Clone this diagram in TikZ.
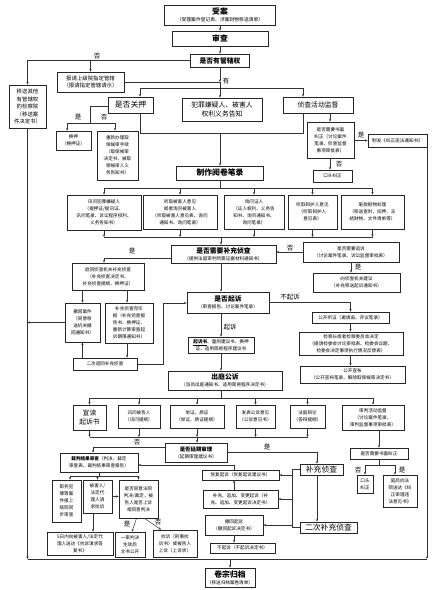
\documentclass[tikz,border=0pt]{standalone}
\usepackage{fontspec}
\setmainfont{Noto Sans CJK SC}
\usetikzlibrary{arrows.meta,positioning}
\newcommand{\fa}{\fontsize{4.6}{7}\selectfont}
\newcommand{\fm}{\fontsize{5.4}{7.5}\selectfont}
\newcommand{\fb}{\fontsize{6.8}{8.5}\selectfont}
\newcommand{\fc}{\fontsize{7.8}{9}\selectfont}
\tikzset{
  box/.style={draw=black!85, line width=0.7pt, align=center, inner sep=0.5pt, font=\fa},
  arr/.style={-{Stealth[length=2.6pt,width=2.2pt]}},
  lab/.style={font=\fontsize{6.5}{7}\selectfont, inner sep=0.5pt},
}
\begin{document}
\begin{tikzpicture}[x=1pt,y=-1pt,line width=0.5pt,draw=black!80]
\useasboundingbox (0,0) rectangle (440,590);
% top part
\node[box,minimum width=111,minimum height=20] (shouan) at (220,15) {{\fc\bfseries 受案}\\{\fontsize{4.8}{6}\selectfont（受理案件登记表、涉案财物移送清单）}};
\node[box,minimum width=96,minimum height=15] (shencha) at (220,38.5) {\fc\bfseries 审查};
\node[box,minimum width=59,minimum height=13] (guanxia) at (220,60.5) {\fb\bfseries 是否有管辖权};
\node[box,minimum width=37,minimum height=43,font=\fm] (yisong) at (27.5,106.5) {移送其他\\有管辖权\\的检察院\\（移送案\\件决定书）};
\node[box,minimum width=67,minimum height=20,font=\fm] (baoqing) at (90.5,82) {报请上级院指定管辖\\（报请指定管辖请示）};
\node[box,minimum width=45,minimum height=16,font=\fc] (guanya) at (130.5,105) {是否关押};
\node[box,minimum width=80,minimum height=23,font=\fb] (gaozhi) at (222,109.5) {犯罪嫌疑人、被害人\\权利义务告知};
\node[box,minimum width=70,minimum height=16,font=\fb] (jiandu) at (318,105) {侦查活动监督};
\node[box,minimum width=35,minimum height=19] (huanya) at (73.5,140.5) {换押\\（换押证）};
\node[box,minimum width=41,minimum height=49] (qubao) at (117.5,155.5) {重新办理取\\保候审手续\\（取保候审\\决定书、被取\\保候审人义\\务告知书）};
\node[box,minimum width=47,minimum height=36] (shumian) at (330.5,140) {是否需要书面\\纠正（讨论案件\\笔录、侦查监督\\事项审批表）};
\node[box,minimum width=59,minimum height=13] (zhifa) at (397.5,140.5) {制发《纠正违法通知书》};
\node[box,minimum width=39,minimum height=12] (koutou) at (332.5,176) {口头纠正};
% reading the file
\node[box,minimum width=87,minimum height=14] (yuejuan) at (220,173) {\fc\bfseries 制作阅卷笔录};
\node[box,minimum width=74,minimum height=35] (xunwen) at (104,212.5) {讯问犯罪嫌疑人\\（提押证/提讯证、\\讯问笔录、诉讼程序权利、\\义务告知书）};
\node[box,minimum width=74,minimum height=34] (beihai) at (180,212) {听取被害人意见\\或者询问被害人\\（听取被害人意见表、询问\\通知书、询问笔录）};
\node[box,minimum width=60,minimum height=34] (zhengren) at (254,212) {询问证人\\（证人权利、义务告\\知书、询问通知书、\\询问笔录）};
\node[box,minimum width=49,minimum height=34] (bianhu) at (312.5,212) {听取辩护人意见\\（听取辩护人\\意见表）};
\node[box,minimum width=63,minimum height=34] (zangkuan) at (372.5,212) {赃款赃物处理\\（移送查封、扣押、冻\\结财物、文件清单等）};
\node[box,minimum width=105,minimum height=18] (buchong) at (223.5,254) {{\fb\bfseries 是否需要补充侦查}\\（提供法庭审判所需证据材料通知书）};
\node[box,minimum width=96,minimum height=20] (zhuisu) at (351,252) {是否需要追诉\\（讨论案件笔录、诉讼监督审批表）};
\node[box,minimum width=87,minimum height=19] (jianyi) at (356.5,282.5) {向侦查机关建议\\（补充移送起诉通知书）};
\node[box,minimum width=72,minimum height=27] (tuihui) at (108,276.5) {退回侦查机关补充侦查\\（补充侦查决定书、\\补充侦查提纲、换押证）};
\node[box,minimum width=35,minimum height=39] (chehui) at (82.5,322.5) {撤回案件\\（同意移\\送机关撤\\回通知书）};
\node[box,minimum width=48,minimum height=40] (wanbi) at (129,323) {补充侦查完毕\\报（补充侦查报\\告书、换押证、\\重新计算审查起\\诉期限通知书）};
\node[box,minimum width=64,minimum height=12] (erci) at (105,364) {二次退回补充侦查};
% prosecution
\node[box,minimum width=82,minimum height=21] (qisu) at (228,302.5) {{\fb\bfseries 是否起诉}\\（审查报告、讨论案件笔录）};
\node[box,minimum width=66,minimum height=16] (qisushu) at (221,345) {\underline{\bfseries 起诉书}、量刑建议书、换押\\证、适用简易程序建议书};
\node[box,minimum width=114,minimum height=19] (chuting) at (225,380.5) {{\fb\bfseries 出庭公诉}\\（派员出庭通知书、适用简易程序决定书）};
\node[box,minimum width=77,minimum height=11] (tingzheng) at (350.5,317.5) {公开听证（邀请函、评议笔录）};
\node[box,minimum width=104,minimum height=23] (jianchazhang) at (351,343.5) {检察长或者检察委员会决定\\（提请检委会讨论审批表、检委会议题、\\检委会决定事项执行情况反馈表）};
\node[box,minimum width=105,minimum height=17] (xuanbu) at (352.5,374.5) {公开宣布\\（公开宣布笔录、解除取保候审决定书）};
% court
\node[box,minimum width=33,minimum height=25,font=\fb] (xuandu) at (89.5,417.5) {宣读\\起诉书};
\node[box,minimum width=42,minimum height=23] (xunbei) at (139,416.5) {讯问被告人\\（讯问提纲）};
\node[box,minimum width=54,minimum height=23] (juzheng) at (197,416.5) {举证、质证\\（举证、质证提纲）};
\node[box,minimum width=39,minimum height=23] (gongsu) at (255.5,416.5) {发表公诉意见\\（公诉意见书）};
\node[box,minimum width=35,minimum height=23] (bianlun) at (307.5,416.5) {法庭辩论\\（答辩提纲）};
\node[box,minimum width=62,minimum height=25] (shenpan) at (373,417.5) {审判活动监督\\（讨论案件笔录、\\审判监督事项审批表）};
\node[box,minimum width=62,minimum height=19] (yanqi) at (196,452.5) {{\fm\bfseries 是否延期审理}\\（延期审理建议书）};
\node[box,minimum width=58,minimum height=11] (shumian2) at (379,453.5) {是否需要书面纠正};
\node[box,minimum width=16,minimum height=18] (koutou2) at (365,484) {口头\\纠正};
\node[box,minimum width=34,minimum height=32] (tinghou) at (400,491) {庭后向法\\院送达《纠\\正审理违\\法意见书》};
\node[box,minimum width=43,minimum height=11,font=\fc] (bczc) at (321.5,469.5) {补充侦查};
\node[box,minimum width=57,minimum height=11,font=\fc] (ercibc) at (328.5,527.5) {二次补充侦查};
\node[box,minimum width=77,minimum height=10] (huifu) at (240.5,475) {恢复起诉（恢复起诉建议书）};
\node[box,minimum width=75,minimum height=18] (biangeng) at (240.5,499) {补充、追加、变更起诉（补\\充、追加、变更起诉决定书）};
\node[box,minimum width=58,minimum height=20] (chehuiqs) at (234,525) {撤回起诉\\（撤回起诉决定书）};
\node[box,minimum width=65,minimum height=10] (buqisu) at (242.5,548) {不起诉（不起诉决定书）};
% judgment review
\node[box,minimum width=78,minimum height=19] (caipan) at (99,462.5) {{\bfseries 裁判结果审查}（判决、裁定\\审查表、裁判结果审查报告）};
\node[box,minimum width=29,minimum height=42] (zhiwu) at (66.5,501) {职务犯\\罪等案\\件报上\\级院同\\步审查};
\node[box,minimum width=29,minimum height=33] (qingqiu) at (97.5,496.5) {被害人/\\法定代\\理人请\\求抗诉};
\node[box,minimum width=39,minimum height=38] (tongyi) at (138.5,499) {是否同意法院\\判决/裁定，被\\告人是否上诉\\或同意判决};
\node[box,minimum width=66,minimum height=23] (dafu) at (80,543.5) {5日内向被害人/法定代\\理人送达《抗诉请求答\\复书》};
\node[box,minimum width=30,minimum height=25] (yishen) at (130,544.5) {一审判决\\生效后\\文书公开};
\node[box,minimum width=44,minimum height=27] (kangsu) at (175,543.5) {抗诉（刑事抗\\诉书）或被告人\\上诉（上诉状）};
\node[box,minimum width=50,minimum height=19] (guidang) at (230,577.5) {{\fc\bfseries 卷宗归档}\\（移送归档案卷清单）};
% connectors, top
\draw[arr] (shouan) -- (shencha);
\draw[arr] (shencha) -- (guanxia);
\draw[arr] (guanxia.west) -| (yisong.north);
\node[lab] (lno1) at (97,56) {否};
\draw[arr] (baoqing.north |- guanxia.west) -- (baoqing.north);
\coordinate (d1) at (220,88);
\draw[arr] (guanxia.south) -- (baoqing.east -| d1);
\draw (baoqing.east) -- (baoqing.east -| d1) -- (d1);
\node[lab] (lyou) at (226,81) {有};
\coordinate (d1l) at (140,88);
\coordinate (d1r) at (303,88);
\draw (d1l) -- (d1r);
\draw[arr] (d1l) -- (d1l |- guanya.north);
\draw[arr] (d1) -- (d1 |- gaozhi.north);
\draw[arr] (d1r) -- (d1r |- jiandu.north);
\coordinate (gy) at (90,123);
\draw ([yshift=-1pt]guanya.west) -| (gy);
\draw (67,123) -- (115,123);
\draw[arr] (67,123) -- (67,0 |- huanya.north);
\draw[arr] (115,123) -- (115,0 |- qubao.north);
\node[lab] (lyes1) at (78,117) {是};
\node[lab] (lno2) at (104,117) {否};
\coordinate (c1) at (220,133);
\draw (d1l |- guanya.south) -- (d1l |- c1) -- (d1r |- c1) -- (d1r |- jiandu.south);
\draw[arr] (c1) -- (c1 |- yuejuan.north);
\draw[arr] (330,0 |- jiandu.south) -- (330,0 |- shumian.north);
\draw[arr] (shumian.east |- zhifa.west) -- (zhifa.west);
\node[lab] (lyes2) at (361,135) {是};
\draw[arr] (330,0 |- shumian.south) -- (330,0 |- koutou.north);
\node[lab] (lno3) at (339,164) {否};
% reading the file
\coordinate (d2) at (220,188);
\draw (yuejuan.south) -- (d2);
\draw (xunwen.north |- d2) -- (zangkuan.north |- d2);
\foreach \b in {xunwen,beihai,zhengren,bianhu,zangkuan}{
  \draw[arr] (\b.north |- d2) -- (\b.north);
  \draw[arr] (\b.south) -- (\b.south |- 0,237);
}
\coordinate (c2) at (221,237);
\draw (xunwen.south |- c2) -- (zangkuan.south |- c2);
\draw[arr] (c2) -- (c2 |- buchong.north);
\draw[arr] ([yshift=-4pt]buchong.west) -| ([xshift=-4pt]tuihui.north);
\node[lab] (lyes3) at (132,251) {是};
\draw[arr] (zhuisu.west) -- (zhuisu.west -| buchong.east);
\node[lab] (lno4) at (290,248) {否};
\draw[arr] (zhuisu.south) -- (zhuisu.south |- jianyi.north);
\node[lab] (lyes4) at (358,267) {是};
\draw[arr] (chehui.north |- tuihui.south) -- (chehui.north);
\draw[arr] ([xshift=-2pt]wanbi.north |- tuihui.south) -- ([xshift=-2pt]wanbi.north);
\draw[arr] (chehui.west) -- (chehui.west -| yisong.south);
\draw[arr] ([xshift=-2pt]wanbi.south) -- ([xshift=-2pt]wanbi.south |- erci.north);
\draw[arr] (chehui.south |- erci.north) -- (chehui.south);
\coordinate (q1) at (163,303);
\draw[arr] (erci.east) -| (q1) -- (q1 -| qisu.west);
\draw[arr] (c2 |- buchong.south) -- (c2 |- qisu.north);
% prosecution
\draw[arr] (qisu.east) -| (tingzheng.north);
\node[lab] (lbuqs) at (290,297) {不起诉};
\draw[arr] (tingzheng.south) -- (tingzheng.south |- jianchazhang.north);
\draw[arr] (tingzheng.south |- jianchazhang.south) -- (tingzheng.south |- xuanbu.north);
\draw[arr] (c2 |- qisu.south) -- (c2 |- qisushu.north);
\node[lab] (lqs) at (230,327) {起诉};
\draw[arr] (qisushu.south) -- (qisushu.south |- chuting.north);
\coordinate (d3) at (221,398);
\draw (qisushu.south |- chuting.south) -- (d3);
\draw (xuandu.north |- d3) -- (shenpan.north |- d3);
\foreach \b in {xuandu,xunbei,juzheng,gongsu,bianlun,shenpan}{
  \draw[arr] (\b.north |- d3) -- (\b.north);
}
\coordinate (c3) at (197,437);
\foreach \b in {xuandu,xunbei,juzheng,gongsu,bianlun}{
  \draw[arr] (\b.south) -- (\b.south |- c3);
}
\draw (xuandu.south |- c3) -- (bianlun.south |- c3);
\draw[arr] (c3) -- (c3 |- yanqi.north);
\draw[arr] (shumian2.north |- shenpan.south) -- (shumian2.north);
% after trial
\draw[arr] ([yshift=5.5pt]yanqi.west) -| ([xshift=-6pt]caipan.north);
\node[lab] (lno5) at (137,442) {否};
\draw[arr] (yanqi.east) -| ([xshift=-4.5pt]bczc.north);
\node[lab] (lyes5) at (267,447) {是};
\draw[arr] ([xshift=-4.5pt]bczc.south) -- ([xshift=-4.5pt]bczc.south |- ercibc.north);
\coordinate (v1) at (292,470);
\draw (bczc.west) -- (bczc.west -| v1) -- (v1 |- ercibc.west) -- (ercibc.west);
\draw[arr] (v1 |- huifu.east) -- (huifu.east);
\draw[arr] (v1 |- biangeng.east) -- (biangeng.east);
\draw[arr] (v1 |- chehuiqs.east) -- (chehuiqs.east);
\draw[arr] (chehuiqs.north |- biangeng.north) -- (chehuiqs.north |- huifu.south);
\draw[arr] (chehuiqs.north |- huifu.north) |- ([yshift=-2.5pt]caipan.east);
\draw[arr] (chehuiqs.south) -- (chehuiqs.south |- buqisu.north);
\coordinate (s2) at (379,465);
\draw (shumian2.south) -- (s2);
\draw (koutou2.north |- s2) -- ([xshift=-5pt]tinghou.north |- s2);
\draw[arr] (koutou2.north |- s2) -- (koutou2.north);
\draw[arr] ([xshift=-5pt]tinghou.north |- s2) -- ([xshift=-5pt]tinghou.north);
\node[lab] (lno6) at (358,470) {否};
\node[lab] (lyes6) at (402,470) {是};
\coordinate (d4) at (99,476);
\draw (caipan.south) -- (d4);
\draw ([xshift=3.5pt]zhiwu.north |- d4) -- (tongyi.north |- d4);
\draw[arr] ([xshift=3.5pt]zhiwu.north |- d4) -- ([xshift=3.5pt]zhiwu.north);
\draw[arr] (qingqiu.north |- d4) -- (qingqiu.north);
\draw[arr] (tongyi.north |- d4) -- (tongyi.north);
\draw[arr] (qingqiu.east) -- (qingqiu.east -| tongyi.west);
\draw[arr] ([xshift=-4.5pt]qingqiu.south) -- ([xshift=-4.5pt]qingqiu.south |- dafu.north);
\draw[arr] ([xshift=-2pt]tongyi.south) -- ([xshift=2pt]yishen.north);
\node[lab] (lyes7) at (127,524) {是};
\draw[arr] ([xshift=6pt]tongyi.south) -- ([xshift=-14pt]kangsu.north);
\node[lab] (lno7) at (158,522) {否};
% filing
\coordinate (bl) at (27.5,559);
\coordinate (br) at (427,559);
\draw[arr] (yisong.south) -- (bl);
\draw[arr] (zhifa.south -| br) -- (br);
\draw (bl) -- (br);
\draw[arr] (guidang.north |- bl) -- (guidang.north);
\end{tikzpicture}
\end{document}
